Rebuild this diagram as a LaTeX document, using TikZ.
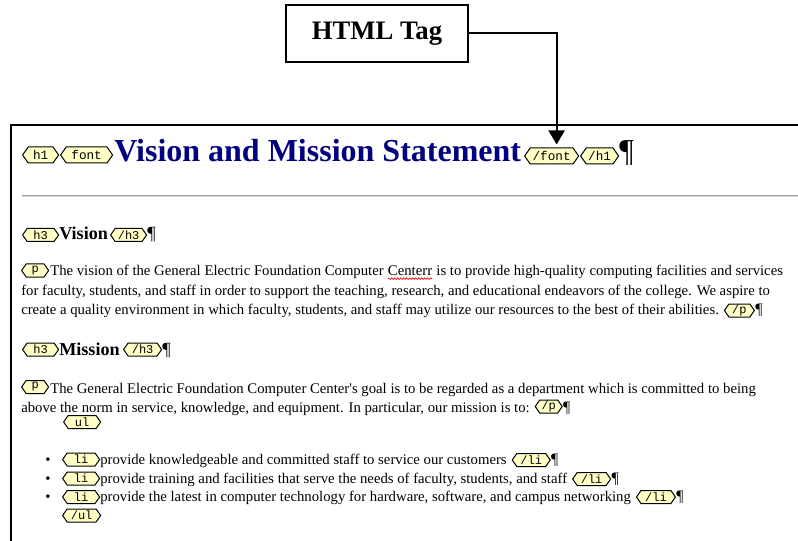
\documentclass[tikz,border=0pt]{standalone}
\usepackage{fontspec}
\setmainfont{Liberation Serif}
\setmonofont{Liberation Mono}
\usetikzlibrary{shapes.symbols,arrows.meta,decorations.pathmorphing}
\definecolor{tagfill}{HTML}{FFFFC6}
\definecolor{headblue}{HTML}{000080}
\definecolor{rulegray}{HTML}{A0A0A0}
\definecolor{rulelight}{HTML}{D8D8D8}
\tikzset{
  tagbox/.style={shape=signal, signal to=east and west, signal pointer angle=110,
    draw=black, line width=0.75pt, fill=tagfill, inner xsep=0pt, inner ysep=0pt,
    font=\ttfamily\fontsize{9}{9}\selectfont, minimum height=9.75pt, anchor=west},
  bigtag/.style={tagbox, minimum height=12pt, font=\ttfamily\fontsize{9.5}{9.5}\selectfont},
  wd/.style={minimum width=#1*0.75pt},
  body/.style={anchor=base west, inner sep=0pt, font=\fontsize{11.05}{13}\selectfont},
  hthree/.style={anchor=base west, inner sep=0pt, font=\bfseries\fontsize{13.6}{16}\selectfont},
  title/.style={anchor=base west, inner sep=0pt, text=headblue, font=\bfseries\fontsize{24}{26}\selectfont},
  pil/.style={anchor=base west, inner sep=0pt, font=\fontsize{12}{14}\selectfont},
  bigpil/.style={anchor=base west, inner sep=0pt, font=\fontsize{24}{26}\selectfont},
  callout/.style={draw=black, line width=1.5pt, fill=white, inner sep=0pt,
    minimum width=182*0.75pt, minimum height=57*0.75pt, font=\bfseries\fontsize{20}{22}\selectfont},
  link/.style={line width=1.5pt, -{Triangle[length=10.5pt,width=12pt]}},
  squiggle/.style={red, line width=0.5pt, decorate, decoration={snake, amplitude=0.6pt, segment length=2.25pt}}
}
\begin{document}
\begin{tikzpicture}[x=0.75pt,y=-0.75pt]
\useasboundingbox (0,0) rectangle (798,541);
\fill[white] (0,0) rectangle (798,541);

% page frame
\draw[line width=1.5pt] (798,125) -- (11,125) -- (11,541);

% heading row
\node[bigtag, wd=36] (h1o) at (22,155) {h1};
\node[bigtag, wd=52] (fonto) at (60,155) {font};
\node[title] (titletext) at (114,162) {Vision and Mission Statement};
\node[bigtag, wd=54] (fontc) at (524,156) {/font};
\node[bigtag, wd=38] (h1c) at (580,156) {/h1};
\node[bigpil] (pil0) at (619,162) {¶};

% horizontal rule
\draw[rulegray, line width=1pt] (22,195.5) -- (798,195.5);
\draw[rulelight, line width=1pt] (22,196.8) -- (798,196.8);

% Vision heading
\node[tagbox, wd=36] (h3o1) at (22,235) {h3};
\node[hthree] (vision) at (59,240) {Vision};
\node[tagbox, wd=36] (h3c1) at (110,235) {/h3};
\node[pil, font=\fontsize{14}{16}\selectfont] (pil1) at (h3c1.east |- vision.base) {¶};

% paragraph 1
\node[tagbox, wd=27] (po1) at (21,270.5) {p};
\node[body] (l1a) at (50,276) {The vision of the General Electric Foundation Computer};
\node[body] (l1b) at ([xshift=2.8pt]l1a.base east) {Centerr};
\node[body] (l1c) at ([xshift=2.8pt]l1b.base east) {is to provide high-quality computing facilities and services};
\draw[squiggle] ([yshift=-2pt]l1b.base west) -- ([yshift=-2pt]l1b.base east);
\node[body] (l2) at (21,295) {for faculty, students, and staff in order to support the teaching, research, and educational endeavors of the college. We aspire to};
\node[body] (l3) at (21,314) {create a quality environment in which faculty, students, and staff may utilize our resources to the best of their abilities.};
\node[tagbox, wd=30] (pc1) at ([xshift=3.5pt]l3.base east |- 0,310.5) {/p};
\node[pil] (pil2) at (pc1.east |- l3.base) {¶};

% Mission heading
\node[tagbox, wd=36] (h3o2) at (22,349.5) {h3};
\node[hthree] (mission) at (59,355) {Mission};
\node[tagbox, wd=38] (h3c2) at (123,349.5) {/h3};
\node[pil, font=\fontsize{14}{16}\selectfont] (pil3) at (h3c2.east |- mission.base) {¶};

% paragraph 2
\node[tagbox, wd=27] (po2) at (21,387) {p};
\node[body] (l4) at (50,393) {The General Electric Foundation Computer Center\textquotesingle s goal is to be regarded as a department which is committed to being};
\node[body] (l5) at (21,412) {above the norm in service, knowledge, and equipment. In particular, our mission is to:};
\node[tagbox, wd=27] (pc2) at ([xshift=3.5pt]l5.base east |- 0,406.5) {/p};
\node[pil] (pil4) at (pc2.east |- l5.base) {¶};
\node[tagbox, wd=37] (ulo) at (63,422) {ul};

% list
\node[body] (b1) at (45,464) {•};
\node[tagbox, wd=37] (li1) at (62,459.5) {li};
\node[body] (t1) at (100,464) {provide knowledgeable and committed staff to service our customers};
\node[tagbox, wd=38] (lic1) at ([xshift=3.5pt]t1.base east |- 0,460) {/li};
\node[pil] (pil5) at (lic1.east |- t1.base) {¶};

\node[body] (b2) at (45,483) {•};
\node[tagbox, wd=37] (li2) at (62,478.5) {li};
\node[body] (t2) at (100,483) {provide training and facilities that serve the needs of faculty, students, and staff};
\node[tagbox, wd=38] (lic2) at ([xshift=3.5pt]t2.base east |- 0,479) {/li};
\node[pil] (pil6) at (lic2.east |- t2.base) {¶};

\node[body] (b3) at (45,501) {•};
\node[tagbox, wd=37] (li3) at (62,497) {li};
\node[body] (t3) at (100,501) {provide the latest in computer technology for hardware, software, and campus networking};
\node[tagbox, wd=39] (lic3) at ([xshift=3.5pt]t3.base east |- 0,497) {/li};
\node[pil] (pil7) at (lic3.east |- t3.base) {¶};

\node[tagbox, wd=38] (ulc) at (62,515.5) {/ul};

% callout
\node[callout] (html) at (377,33.5) {HTML Tag};
\draw[link, shorten >=2.25pt] (html.east) -| ([xshift=3.75pt]fontc.north);
\end{tikzpicture}
\end{document}
